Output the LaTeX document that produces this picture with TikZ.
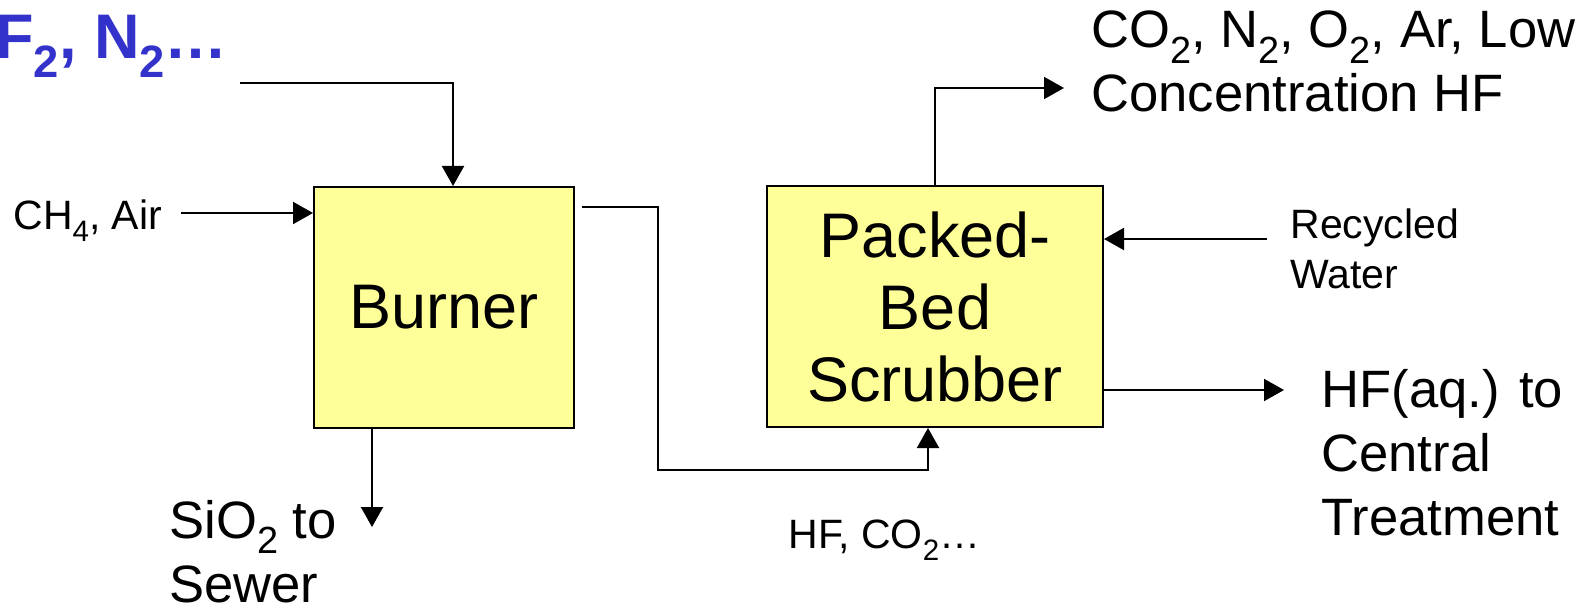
\documentclass[tikz,border=0pt]{standalone}
\usepackage{fontspec}
\usepackage{graphicx}
\setmainfont{Liberation Sans}
\usetikzlibrary{arrows.meta,positioning}
\definecolor{unitfill}{HTML}{FFFF99}
\definecolor{feedblue}{HTML}{3333CC}
\newcommand{\lowsub}[1]{\raisebox{-0.3em}{\scalebox{0.72}{#1}}}

\begin{document}
\begin{tikzpicture}[x=0.5pt,y=-0.5pt,
    unit/.style={draw, line width=1pt, fill=unitfill, align=center, inner sep=0pt,
        font=\fontsize{31.5}{36}\selectfont},
    flow/.style={line width=1pt, -{Triangle[length=10pt,width=11pt]}},
    lbl/.style={align=left, inner sep=0pt, anchor=base west, font=\fontsize{26.3}{32}\selectfont},
    small/.style={align=left, inner sep=0pt, anchor=base west, font=\fontsize{20.5}{25}\selectfont}]

    \useasboundingbox (0,0) rectangle (1591,610);

    % Equipos
    \node[unit, minimum width=130pt, minimum height=120.5pt] (burner) at (444,307.5) {Burner};
    \node[unit, minimum width=168pt, minimum height=120.5pt] (scrub) at (935,306.5) {Packed-\\Bed\\Scrubber};

    % Entradas al quemador
    \node[inner sep=0pt, anchor=base west, text=feedblue,
        font=\bfseries\fontsize{31.5}{36}\selectfont] (feed) at (-5,59) {F\lowsub{2}, N\lowsub{2}…};
    \coordinate (feedin) at (240,83);
    \draw[flow] (feedin) -| ([xshift=4.5pt]burner.north);

    \node[small] (ch4) at (13,229) {CH\lowsub{4}, Air};
    \coordinate (ch4in) at (181,213);
    \draw[flow] (ch4in) -- (ch4in -| burner.west);

    % Salida de SiO2
    \coordinate (sio2out) at (372,527);
    \draw[flow] (burner.south -| sio2out) -- (sio2out);
    \node[lbl] (sio2) at (169,602) {SiO\lowsub{2} to\\Sewer};

    % Gases del quemador al lavador
    \coordinate (hfout) at (582,207);
    \draw[flow] (hfout) -| (658,470) -| ([xshift=-3.5pt]scrub.south);
    \node[small] (hf) at (788,548) {HF, CO\lowsub{2}…};

    % Salida de gases
    \coordinate (gasout) at (1064,88);
    \draw[flow] (scrub.north) |- (gasout);
    \node[lbl] (gas) at (1091,112) {CO\lowsub{2}, N\lowsub{2}, O\lowsub{2}, Ar, Low\\Concentration HF};

    % Agua reciclada
    \coordinate (waterin) at (1267,239);
    \draw[flow] (waterin) -- (waterin -| scrub.east);
    \node[small] (water) at (1290,288) {Recycled\\Water};

    % HF acuoso
    \coordinate (liqout) at (1284,390);
    \draw[flow] (liqout -| scrub.east) -- (liqout);
    \node[lbl] (liq) at (1321,535) {HF(aq.) to\\Central\\Treatment};

\end{tikzpicture}
\end{document}
